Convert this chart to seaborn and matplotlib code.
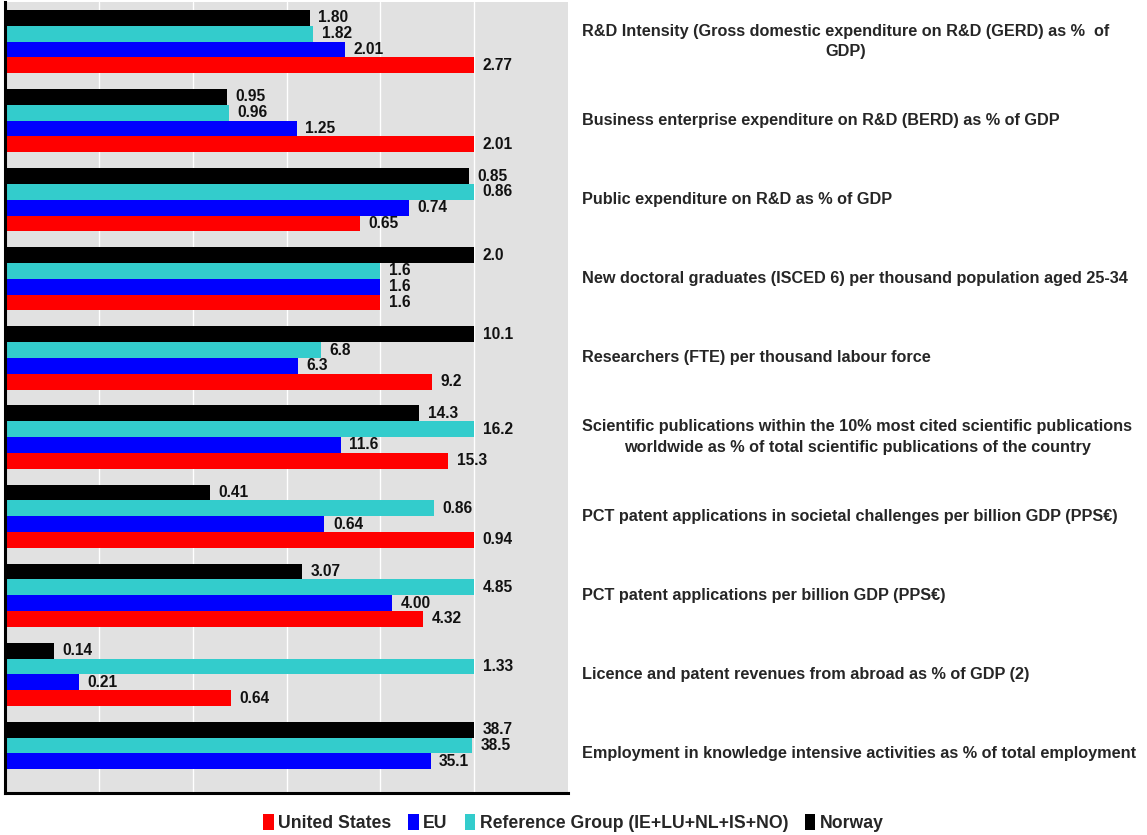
import numpy as np
import pandas as pd
import matplotlib.pyplot as plt
from matplotlib.patches import Patch
import matplotlib.transforms as mtransforms
import seaborn as sns

# DATA
categories = [
    "R&D Intensity (Gross domestic expenditure on R&D (GERD) as %  of\nGDP)",
    "Business enterprise expenditure on R&D (BERD) as % of GDP",
    "Public expenditure on R&D as % of GDP",
    "New doctoral graduates (ISCED 6) per thousand population aged 25-34",
    "Researchers (FTE) per thousand labour force",
    "Scientific publications within the 10% most cited scientific publications\nworldwide as % of total scientific publications of the country",
    "PCT patent applications in societal challenges per billion GDP (PPS\u20ac)",
    "PCT patent applications per billion GDP (PPS\u20ac)",
    "Licence and patent revenues from abroad as % of GDP (2)",
    "Employment in knowledge intensive activities as % of total employment",
]
decimals = [2, 2, 2, 1, 1, 1, 2, 2, 2, 1]
norway = [1.80, 0.95, 0.85, 2.0, 10.1, 14.3, 0.41, 3.07, 0.14, 38.7]
reference = [1.82, 0.96, 0.86, 1.6, 6.8, 16.2, 0.86, 4.85, 1.33, 38.5]
eu = [2.01, 1.25, 0.74, 1.6, 6.3, 11.6, 0.64, 4.00, 0.21, 35.1]
us = [2.77, 2.01, 0.65, 1.6, 9.2, 15.3, 0.94, 4.32, 0.64, np.nan]

series = {
    "Norway": norway,
    "Reference Group (IE+LU+NL+IS+NO)": reference,
    "EU": eu,
    "United States": us,
}
hue_order = list(series.keys())
colors = {
    "United States": "#FF0000",
    "EU": "#0000FF",
    "Reference Group (IE+LU+NL+IS+NO)": "#33CCCC",
    "Norway": "#000000",
}
legend_order = ["United States", "EU", "Reference Group (IE+LU+NL+IS+NO)", "Norway"]

# each indicator scaled so the best performer = 100
wide = pd.DataFrame(series, index=categories)
scaled = wide.div(wide.max(axis=1), axis=0) * 100
long = scaled.reset_index(names="indicator").melt(id_vars="indicator", var_name="group", value_name="score")

sns.set_style("white")
plt.rcParams["font.family"] = ["Liberation Sans", "DejaVu Sans"]
plt.rcParams["font.weight"] = "bold"

fig = plt.figure(figsize=(11.47, 8.35), dpi=100)
ax = fig.add_axes([5 / 1147, 1 - 793 / 835, 563 / 1147, 791 / 835])
ax.set_facecolor("#E1E1E1")

sns.barplot(data=long, y="indicator", x="score", hue="group", hue_order=hue_order,
            order=categories, palette=colors, orient="h", width=0.8, saturation=1,
            ax=ax, legend=False, errorbar=None, edgecolor="none", linewidth=0)

ax.set_xlim(0, 120)
ax.set_ylim(len(categories) - 0.5, -0.5)
ax.set_xticks([20, 40, 60, 80, 100])
ax.grid(axis="x", color="white", lw=1.0)
ax.set_axisbelow(True)
ax.tick_params(length=0, labelbottom=False, labelleft=False)
ax.set_xlabel("")
ax.set_ylabel("")
for s in ["top", "right"]:
    ax.spines[s].set_visible(False)
for s in ["left", "bottom"]:
    ax.spines[s].set_color("black")
    ax.spines[s].set_linewidth(2.2)

# value labels
n = len(hue_order)
for j, name in enumerate(hue_order):
    off = -0.4 + 0.8 / n * (j + 0.5)
    for i, cat in enumerate(categories):
        v = wide.loc[cat, name]
        if np.isnan(v):
            continue
        ax.text(scaled.loc[cat, name] + 1.8, i + off, f"{v:.{decimals[i]}f}",
                va="center", ha="left", fontsize=11.2, fontweight="bold", color="#111111")

# indicator names on the right
trans = mtransforms.blended_transform_factory(ax.transAxes, ax.transData)
for i, cat in enumerate(categories):
    ax.text(1.025, i, cat, transform=trans, ha="left", va="center", linespacing=1.45,
            multialignment="center", fontsize=11.7, fontweight="bold", clip_on=False)

handles = [Patch(facecolor=colors[k], edgecolor="none") for k in legend_order]
fig.legend(handles, legend_order, loc="center", bbox_to_anchor=(0.5, 0.014), ncol=4,
           frameon=False, handlelength=0.6, handleheight=1.0, handletextpad=0.25,
           columnspacing=0.95, prop={"size": 12.7, "weight": "bold"})

fig.savefig("out.png", dpi=100)
